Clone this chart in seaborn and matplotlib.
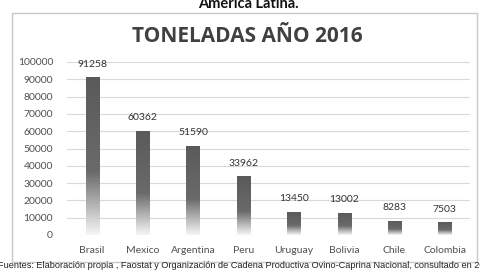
import numpy as np
import pandas as pd
import matplotlib
matplotlib.use("Agg")
import matplotlib.pyplot as plt
from matplotlib.patches import Rectangle
from matplotlib.colors import LinearSegmentedColormap
import seaborn as sns

# data
paises = ["Brasil", "Mexico", "Argentina", "Peru", "Uruguay", "Bolivia", "Chile", "Colombia"]
toneladas = [91258, 60362, 51590, 33962, 13450, 13002, 8283, 7503]
y_ticks = list(range(0, 100001, 10000))

titulo = "TONELADAS AÑO 2016"
caption = "América Latina."
fuente = ("Fuentes: Elaboración propia , Faostat y Organización de Cadena Productiva "
          "Ovino-Caprina Nacional, consultado en 2019")

sns.set_theme(style="white")
plt.rcParams["font.family"] = ["Lato", "DejaVu Sans"]

df = pd.DataFrame({"pais": paises, "ton": toneladas})

fig = plt.figure(figsize=(4.8, 2.7), dpi=100)
ax = fig.add_axes([67 / 480, 35 / 270, 403 / 480, 173 / 270])

sns.barplot(data=df, x="pais", y="ton", color="#666666", width=0.26, ax=ax,
            saturation=1)

# gradient fill: dark on top, fading to white at the base of each bar
cmap = LinearSegmentedColormap.from_list(
    "bar", [(0.0, "#5a5a5a"), (0.6, "#6a6a6a"), (1.0, "#f6f6f6")])
grad = np.linspace(0, 1, 256).reshape(-1, 1)
for patch in ax.patches:
    x0, y0 = patch.get_x(), patch.get_y()
    w, h = patch.get_width(), patch.get_height()
    patch.set_facecolor("none")
    patch.set_edgecolor("none")
    im = ax.imshow(grad, cmap=cmap, aspect="auto", interpolation="bilinear",
                   extent=(x0, x0 + w, y0, y0 + h), origin="upper", zorder=3)
    im.set_clip_path(patch)

for i, v in enumerate(toneladas):
    ax.annotate(f"{v}", (i, v), xytext=(0, 6), textcoords="offset points",
                ha="center", va="bottom", fontsize=7.5, color="#333333")

ax.set_xlim(-0.5, len(paises) - 0.5)
ax.set_ylim(0, 100000)
ax.set_yticks(y_ticks)
ax.set_yticklabels([str(t) for t in y_ticks])
ax.set_xlabel("")
ax.set_ylabel("")
ax.yaxis.grid(True, color="#d9d9d9", linewidth=0.8)
ax.set_axisbelow(True)
for s in ax.spines.values():
    s.set_visible(False)
ax.tick_params(axis="y", length=0, pad=10, labelsize=7.5, labelcolor="#505050")
ax.tick_params(axis="x", length=0, pad=8, labelsize=7.5, labelcolor="#505050")

# chart frame
fig.patches.append(Rectangle((12 / 480, 1 - 262 / 270), 465 / 480, 249 / 270,
                             transform=fig.transFigure, fill=False,
                             edgecolor="#c8c8c8", linewidth=1))

fig.text(247 / 480, 1 - 36 / 270, titulo, ha="center", va="center",
         fontsize=15, fontweight="bold", color="#404040",
         family=["Open Sans", "DejaVu Sans"])
fig.text(248 / 480, 1 - 4.5 / 270, caption, ha="center", va="center",
         fontsize=10.5, fontweight="bold", color="#111111")
fig.text(-2 / 480, 1 - 266 / 270, fuente, ha="left", va="center",
         fontsize=6.6, color="#222222", family=["Liberation Sans", "DejaVu Sans"])

fig.savefig("out.png", dpi=100)
